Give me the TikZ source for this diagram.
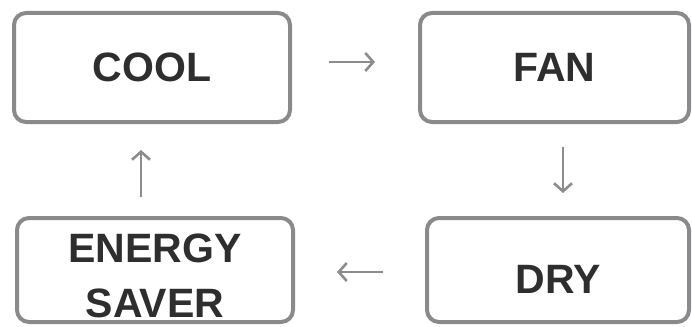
\documentclass[tikz,border=0pt]{standalone}
\usepackage{fontspec}
\setmainfont{Liberation Sans}
\usetikzlibrary{arrows.meta}
\definecolor{boxgray}{HTML}{8A8A8C}
\definecolor{arrgray}{HTML}{8C8C8C}
\definecolor{txt}{HTML}{2E2E2E}
\tikzset{
  modebox/.style={draw=boxgray, line width=4pt, rounded corners=12pt, fill=white,
    inner sep=0pt, text=txt, font=\fontsize{41}{55}\selectfont\bfseries, align=center},
  flow/.style={draw=arrgray, line width=2.6pt, -{Straight Barb[length=8pt,width=18pt,line width=2.6pt]}}
}
\begin{document}
\begin{tikzpicture}[x=1pt,y=1pt]
\useasboundingbox (0,0) rectangle (692,-326);
\node[modebox, minimum width=276pt, minimum height=109pt] (cool) at (152,-67.5) {COOL};
\node[modebox, minimum width=269pt, minimum height=109pt] (fan) at (554.5,-67.5) {FAN};
\node[modebox, minimum width=262pt, minimum height=104pt] (dry) at (558,-270) {\raisebox{-23.5pt}[40pt][40pt]{DRY}};
\node[modebox, minimum width=276pt, minimum height=104pt] (saver) at (155,-270) {\raisebox{8pt}[40pt][40pt]{\begin{tabular}[t]{@{}c@{}}ENERGY\\SAVER\end{tabular}}};
\draw[flow, shorten <=37pt, shorten >=43pt] ([yshift=5.5pt]cool.east) -- ([yshift=5.5pt]fan.west);
\draw[flow, shorten <=23pt, shorten >=23pt] ([xshift=8.5pt]fan.south) -- ([xshift=5pt]dry.north);
\draw[flow, shorten <=42pt, shorten >=42pt] ([yshift=-2pt]dry.west) -- ([yshift=-2pt]saver.east);
\draw[flow, shorten <=19pt, shorten >=26pt] ([xshift=-14pt]saver.north) -- ([xshift=-11pt]cool.south);
\end{tikzpicture}
\end{document}
